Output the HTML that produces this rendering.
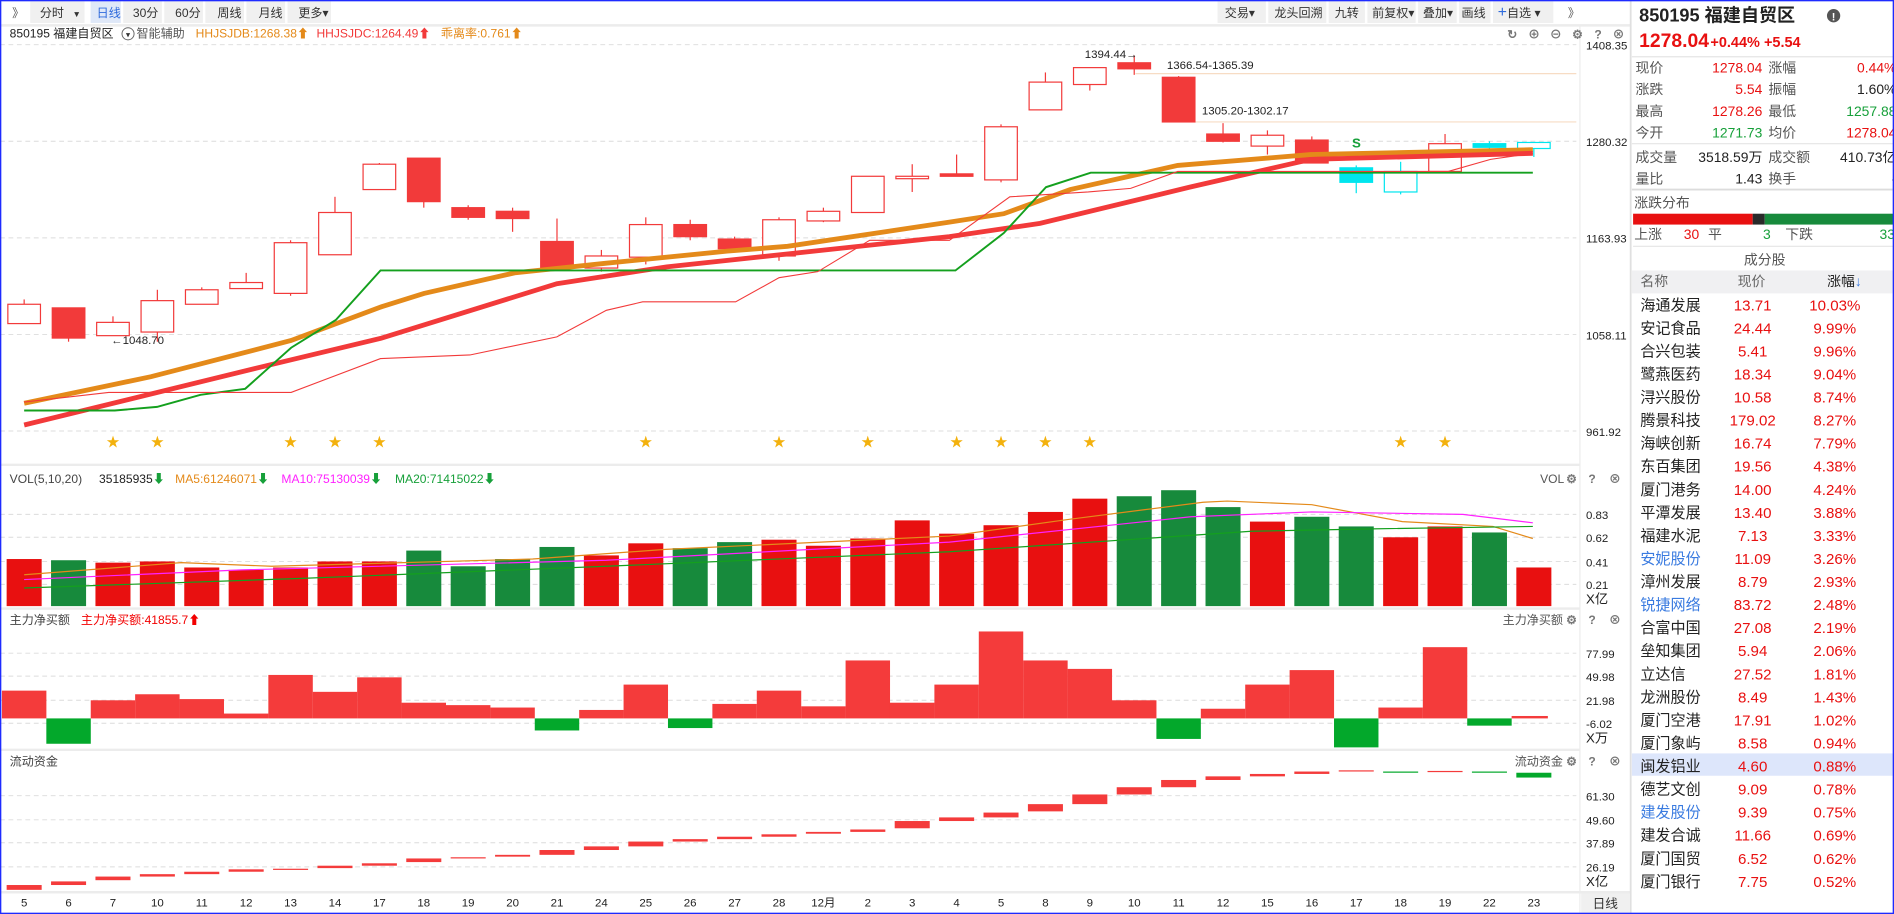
<!DOCTYPE html>
<html><head><meta charset="utf-8"><style>
html,body{margin:0;padding:0;background:#fff;}
svg{display:block;}
text{font-family:"Liberation Sans","Noto Sans CJK SC",sans-serif;}
</style></head><body>
<svg id="s" width="1894" height="914" viewBox="0 0 1568 757" preserveAspectRatio="none" xmlns="http://www.w3.org/2000/svg">
<rect x="0" y="0" width="1568" height="757" fill="#fff"/>
<g id="grid" stroke="#dcdcdc" stroke-dasharray="4,3" stroke-width="0.8">
<line x1="0" y1="37" x2="1305" y2="37"/><line x1="0" y1="117" x2="1305" y2="117"/><line x1="0" y1="197" x2="1305" y2="197"/><line x1="0" y1="277" x2="1305" y2="277"/><line x1="0" y1="357" x2="1305" y2="357"/>
<line x1="0" y1="426" x2="1305" y2="426"/><line x1="0" y1="445" x2="1305" y2="445"/><line x1="0" y1="465" x2="1305" y2="465"/><line x1="0" y1="484" x2="1305" y2="484"/>
<line x1="0" y1="541" x2="1305" y2="541"/><line x1="0" y1="560" x2="1305" y2="560"/><line x1="0" y1="580" x2="1305" y2="580"/><line x1="0" y1="599" x2="1305" y2="599"/>
<line x1="0" y1="659" x2="1305" y2="659"/><line x1="0" y1="679" x2="1305" y2="679"/><line x1="0" y1="698" x2="1305" y2="698"/><line x1="0" y1="718" x2="1305" y2="718"/>
</g>
<g stroke="#ececec" stroke-width="2">
<line x1="0" y1="21" x2="1350" y2="21"/><line x1="0" y1="385" x2="1308" y2="385"/><line x1="0" y1="504" x2="1308" y2="504"/><line x1="0" y1="621" x2="1308" y2="621"/><line x1="0" y1="739" x2="1350" y2="739"/>
</g>
<line x1="1308" y1="21" x2="1308" y2="757" stroke="#ececec" stroke-width="1"/>
<line x1="1350" y1="0" x2="1350" y2="757" stroke="#e0e0e0" stroke-width="1.5"/>
<line x1="940" y1="61" x2="1305" y2="61" stroke="#f7dcc4" stroke-width="1"/>
<line x1="980" y1="101" x2="1305" y2="101" stroke="#f7dcc4" stroke-width="1"/>
<g id="cand"></g>
<g id="lines" fill="none">
<polyline stroke="#e48a1a" stroke-width="4" points="20,334 125,312 241,282 316,254 351,243 426,226 502,218 602,208 652,204 786,184 831,177 886,157 975,137 1085,128 1269,124"/>
<polyline stroke="#f23a3a" stroke-width="4" points="20,352 216,304 316,280 461,235 552,221 786,196 861,185 985,155 1085,132 1269,127"/>
<polyline stroke="#14a01e" stroke-width="1.6" points="20,340 95,340 130,337 166,327 203,322 241,288 278,265 315,224 791,224 831,193 866,155 903,143 1269,143"/>
<polyline stroke="#f23a3a" stroke-width="0.9" points="20,333 90,325 241,325 315,297 389,294 461,279 502,257 532,250 609,250 645,230 677,225 720,199 786,199 836,163 901,159 936,156 975,142 1199,142 1234,132 1269,127"/>
</g>
<g id="stars" fill="#f3b10d" font-size="11" text-anchor="middle"></g>
<text x="1123" y="122" font-size="11" fill="#17a03a" text-anchor="middle" font-weight="bold">S</text>
<g font-size="9.5" fill="#222">
<text x="92" y="285">←1048.70</text>
<text x="898" y="48">1394.44→</text>
<text x="966" y="57">1366.54-1365.39</text>
<text x="995" y="95">1305.20-1302.17</text>
</g>
<g id="vol"></g>
<g id="vma" fill="none" stroke-width="1">
<polyline stroke="#e48a1a" points="20,476 150,466 225,469 441,463 551,455 786,444 886,430 996,416 1016,415 1086,418 1161,432 1236,436 1269,446"/>
<polyline stroke="#ff22ff" points="20,480 200,472 502,464 786,449 986,428 1086,424 1211,426 1269,433"/>
<polyline stroke="#14a01e" points="20,487 250,479 502,469 786,457 1036,440 1136,438 1269,436"/>
</g>
<g id="nb"></g>
<g id="wf"></g>
<g font-size="9.5" fill="#222">
<text x="1313" y="41">1408.35</text><text x="1313" y="121">1280.32</text><text x="1313" y="201">1163.93</text><text x="1313" y="281">1058.11</text><text x="1313" y="361">961.92</text>
<text x="1313" y="430">0.83</text><text x="1313" y="449">0.62</text><text x="1313" y="469">0.41</text><text x="1313" y="488">0.21</text><text x="1313" y="500" font-size="11">X亿</text>
<text x="1313" y="545">77.99</text><text x="1313" y="564">49.98</text><text x="1313" y="584">21.98</text><text x="1313" y="603">-6.02</text><text x="1313" y="615" font-size="11">X万</text>
<text x="1313" y="663">61.30</text><text x="1313" y="683">49.60</text><text x="1313" y="702">37.89</text><text x="1313" y="722">26.19</text><text x="1313" y="734" font-size="11">X亿</text>
</g>
<g id="dates" font-size="9.5" fill="#222" text-anchor="middle"></g>
<rect x="1309" y="740" width="40" height="16" fill="#f0f0f0"/>
<text x="1329" y="752" font-size="10.5" fill="#333" text-anchor="middle">日线</text>
<g font-size="10">
<text x="8" y="31" fill="#222">850195 福建自贸区</text>
<circle cx="106" cy="28" r="5" fill="none" stroke="#666" stroke-width="0.8"/><text x="106" y="31" font-size="7" text-anchor="middle" fill="#333">▾</text>
<text x="113" y="31" fill="#555">智能辅助</text>
<text x="162" y="31" fill="#e48a1a">HHJSJDB:1268.38⬆</text>
<text x="262" y="31" fill="#f23a3a">HHJSJDC:1264.49⬆</text>
<text x="365" y="31" fill="#e48a1a">乖离率:0.761⬆</text>
<text x="8" y="400" fill="#444">VOL(5,10,20)</text>
<text x="82" y="400" fill="#222">35185935<tspan fill="#17a03a">⬇</tspan></text>
<text x="145" y="400" fill="#e48a1a">MA5:61246071<tspan fill="#17a03a">⬇</tspan></text>
<text x="233" y="400" fill="#ff22ff">MA10:75130039<tspan fill="#17a03a">⬇</tspan></text>
<text x="327" y="400" fill="#17a03a">MA20:71415022⬇</text>
<text x="1275" y="400" fill="#555">VOL</text>
<text x="8" y="517" fill="#444">主力净买额</text>
<text x="67" y="517" fill="#f20000">主力净买额:41855.7⬆</text>
<text x="1244" y="517" fill="#555">主力净买额</text>
<text x="8" y="634" fill="#444">流动资金</text>
<text x="1254" y="634" fill="#555">流动资金</text>
</g>
<g fill="#777" font-size="10" text-anchor="middle" font-weight="bold">
<text x="1301" y="400">⚙</text><text x="1318" y="400">?</text><text x="1337" y="400">⊗</text>
<text x="1301" y="517">⚙</text><text x="1318" y="517">?</text><text x="1337" y="517">⊗</text>
<text x="1301" y="634">⚙</text><text x="1318" y="634">?</text><text x="1337" y="634">⊗</text>
<text x="1252" y="32">↻</text><text x="1270" y="32">⊕</text><text x="1288" y="32">⊖</text><text x="1306" y="32">⚙</text><text x="1323" y="32">?</text><text x="1340" y="32">⊗</text>
</g>
<g font-size="10" fill="#333">
<rect x="25" y="1" width="45" height="18" fill="#f0f0f0"/><rect x="75" y="1" width="25" height="18" fill="#dfe8f8"/>
<rect x="102" y="1" width="32" height="18" fill="#f0f0f0"/><rect x="136" y="1" width="32" height="18" fill="#f0f0f0"/><rect x="170" y="1" width="32" height="18" fill="#f0f0f0"/><rect x="204" y="1" width="32" height="18" fill="#f0f0f0"/><rect x="238" y="1" width="36" height="18" fill="#f0f0f0"/>
<text x="10" y="14" fill="#555">》</text>
<text x="33" y="14">分时</text><text x="60" y="14" font-size="7">▼</text>
<text x="80" y="14" fill="#2f6bdc">日线</text><text x="110" y="14">30分</text><text x="145" y="14">60分</text><text x="180" y="14">周线</text><text x="214" y="14">月线</text><text x="247" y="14">更多▾</text>
<rect x="1008" y="1" width="40" height="18" fill="#f0f0f0"/><rect x="1050" y="1" width="48" height="18" fill="#f0f0f0"/><rect x="1100" y="1" width="30" height="18" fill="#f0f0f0"/><rect x="1132" y="1" width="40" height="18" fill="#f0f0f0"/><rect x="1174" y="1" width="32" height="18" fill="#f0f0f0"/><rect x="1208" y="1" width="26" height="18" fill="#f0f0f0"/><rect x="1236" y="1" width="50" height="18" fill="#f0f0f0"/>
<text x="1014" y="14">交易▾</text><text x="1055" y="14">龙头回溯</text><text x="1105" y="14">九转</text><text x="1136" y="14">前复权▾</text><text x="1178" y="14">叠加▾</text><text x="1210" y="14">画线</text><text x="1240" y="14"><tspan fill="#2f6bdc" font-size="13">+</tspan>自选 ▾</text>
<text x="1298" y="14" fill="#555">》</text>
</g>
<g>
<text x="1357" y="18" font-size="15" font-weight="bold" fill="#222">850195 福建自贸区</text>
<circle cx="1518" cy="13" r="5.5" fill="#555"/><text x="1518" y="17" font-size="9" fill="#fff" text-anchor="middle" font-weight="bold">!</text>
<text x="1357" y="39" font-size="16" font-weight="bold" fill="#e81010">1278.04</text>
<text x="1416" y="39" font-size="12" font-weight="bold" fill="#e81010">+0.44%  +5.54</text>
<line x1="1351" y1="47" x2="1568" y2="47" stroke="#e4e4e4"/>
<g font-size="11.5" fill="#555">
<text x="1354" y="60">现价</text><text x="1354" y="78">涨跌</text><text x="1354" y="96">最高</text><text x="1354" y="114">今开</text><text x="1354" y="134">成交量</text><text x="1354" y="152">量比</text>
<text x="1464" y="60">涨幅</text><text x="1464" y="78">振幅</text><text x="1464" y="96">最低</text><text x="1464" y="114">均价</text><text x="1464" y="134">成交额</text><text x="1464" y="152">换手</text>
</g>
<g font-size="11.5" text-anchor="end">
<text x="1459" y="60" fill="#e81010">1278.04</text><text x="1459" y="78" fill="#e81010">5.54</text><text x="1459" y="96" fill="#e81010">1278.26</text><text x="1459" y="114" fill="#17a03a">1271.73</text><text x="1459" y="134" fill="#222">3518.59万</text><text x="1459" y="152" fill="#222">1.43</text>
<text x="1570" y="60" fill="#e81010">0.44%</text><text x="1570" y="78" fill="#222">1.60%</text><text x="1570" y="96" fill="#17a03a">1257.88</text><text x="1570" y="114" fill="#e81010">1278.04</text><text x="1570" y="134" fill="#222">410.73亿</text><text x="1570" y="152" fill="#222">-</text>
</g>
<line x1="1351" y1="119" x2="1568" y2="119" stroke="#e4e4e4"/>
<line x1="1351" y1="157" x2="1568" y2="157" stroke="#dcdcdc" stroke-width="1.5"/>
<text x="1353" y="172" font-size="11.5" fill="#555">涨跌分布</text>
<rect x="1352" y="177" width="99" height="9" fill="#e81010"/><rect x="1451" y="177" width="10" height="9" fill="#2a2a2a"/><rect x="1461" y="177" width="107" height="9" fill="#178a3c"/>
<g font-size="11.5"><text x="1353" y="198" fill="#555">上涨</text><text x="1394" y="198" fill="#e81010">30</text><text x="1414" y="198" fill="#555">平</text><text x="1466" y="198" fill="#17a03a" text-anchor="end">3</text><text x="1478" y="198" fill="#555">下跌</text><text x="1556" y="198" fill="#17a03a">33</text></g>
<line x1="1352" y1="204" x2="1568" y2="204" stroke="#e4e4e4"/>
<text x="1461" y="219" font-size="11.5" fill="#555" text-anchor="middle">成分股</text>
<rect x="1351" y="224" width="217" height="19" fill="#f0f0f2"/>
<g font-size="11.5"><text x="1358" y="237" fill="#666">名称</text><text x="1450" y="237" fill="#666" text-anchor="middle">现价</text><text x="1527" y="237" fill="#222" text-anchor="middle">涨幅<tspan fill="#3a7be0">↓</tspan></text></g>
<rect x="1351" y="624" width="217" height="18.5" fill="#dde6fb"/>
<g id="list" font-size="12.5"></g>
</g>
<rect x="0.5" y="0.5" width="1567" height="756" fill="none" stroke="#1e2bff" stroke-width="1.2"/>
</svg>
<script>
var NS="http://www.w3.org/2000/svg";
function el(p,t,a,txt){var e=document.createElementNS(NS,t);for(var k in a)e.setAttribute(k,a[k]);if(txt!=null)e.textContent=txt;document.getElementById(p).appendChild(e);return e;}
function cx(i){return 20+i*36.76;}
var C=[[252,268,248,268,'h'],[255,280,255,283,'f'],[267,278,262,278,'h'],[249,275,240,283,'h'],[240,252,238,252,'h'],[234,239,226,239,'h'],[201,243,199,245,'h'],[176,211,163,211,'h'],[136,157,135,157,'h'],[131,167,131,172,'f'],[172,180,170,182,'f'],[175,181,172,192,'f'],[200,222,181,222,'f'],[212,222,207,225,'h'],[186,213,180,219,'h'],[186,196,182,199,'f'],[198,206,196,208,'f'],[182,212,180,216,'h'],[175,183,172,184,'h'],[146,176,146,176,'h'],[146,148,136,159,'h'],[144,146,128,146,'f'],[105,149,103,151,'h'],[68,91,60,91,'h'],[56,70,56,75,'h'],[52,57,46,62,'f'],[64,101,63,101,'f'],[111,117,102,118,'f'],[112,121,108,128,'h'],[116,135,113,135,'f'],[139,151,137,160,'c'],[142,159,134,161,'x'],[119,142,111,142,'h'],[119,122,117,125,'c'],[118,123,118,130,'x']];
C.forEach(function(c,i){var x=cx(i),w=28;var col=(c[4]=='c'||c[4]=='x')?'#00e5ee':'#f23a3a';
el('cand','line',{x1:x,y1:c[2],x2:x,y2:c[3],stroke:col,'stroke-width':1});
var filled=(c[4]=='f'||c[4]=='c');
el('cand','rect',{x:x-w/2+0.5,y:c[0],width:w-1,height:Math.max(1,c[1]-c[0]),fill:filled?col:'#fff',stroke:col,'stroke-width':1});});
[2,3,6,7,8,14,17,19,21,22,23,24,31,32].forEach(function(i){el('stars','text',{x:cx(i),y:370},'★');});
var V=[463,464,466,465,470,472,470,465,465,456,469,463,453,460,450,454,449,447,452,446,431,442,435,424,413,411,406,420,432,428,436,445,436,441,470];
var G=[1,9,10,11,12,15,16,25,26,27,29,30,33];
V.forEach(function(t,i){el('vol','rect',{x:cx(i)-14.5,y:t,width:29,height:502-t,fill:G.indexOf(i)>=0?'#178a3c':'#e81010'});});
var N=[572,616,580,575,579,591,559,573,561,582,584,586,605,588,567,603,583,572,585,547,582,567,523,547,554,580,612,587,567,555,619,586,536,601,593];
var NG=[1,12,15,26,30,33];
N.forEach(function(t,i){var z=595,g=NG.indexOf(i)>=0;var y=g?z:t,h=g?t-z:z-t;var w=36.8;if(i==34)w=30;el('nb','rect',{x:cx(i)-18.4,y:y,width:w,height:h,fill:g?'#03a82b':'#f43b3b'});});
var W=[[733,737],[730,733],[726,729],[724,726],[722,724],[720,722],[719.5,720.5],[717,719],[715,717],[711,714],[710,711],[708,709.5],[704,708],[701,704],[697,701],[695,697],[693,695],[691,693],[689,690.5],[687,689],[680,686],[677,680],[673,677],[666,672],[658,666],[652,658],[646,652],[643,646],[641,643],[639,641],[638,639],[639,640,'g'],[638.5,639.5],[639,640,'g'],[640,644,'g']];
W.forEach(function(w,i){el('wf','rect',{x:cx(i)-14.5,y:w[0],width:29,height:Math.max(1,w[1]-w[0]),fill:w[2]?'#03a82b':'#f43b3b'});});
var D=["5","6","7","10","11","12","13","14","17","18","19","20","21","24","25","26","27","28","12月","2","3","4","5","8","9","10","11","12","15","16","17","18","19","22","23"];
D.forEach(function(d,i){el('dates','text',{x:cx(i),y:751},d);});
var L=[["海通发展","13.71","10.03%"],["安记食品","24.44","9.99%"],["合兴包装","5.41","9.96%"],["鹭燕医药","18.34","9.04%"],["浔兴股份","10.58","8.74%"],["腾景科技","179.02","8.27%"],["海峡创新","16.74","7.79%"],["东百集团","19.56","4.38%"],["厦门港务","14.00","4.24%"],["平潭发展","13.40","3.88%"],["福建水泥","7.13","3.33%"],["安妮股份","11.09","3.26%",1],["漳州发展","8.79","2.93%"],["锐捷网络","83.72","2.48%",1],["合富中国","27.08","2.19%"],["垒知集团","5.94","2.06%"],["立达信","27.52","1.81%"],["龙洲股份","8.49","1.43%"],["厦门空港","17.91","1.02%"],["厦门象屿","8.58","0.94%"],["闽发铝业","4.60","0.88%"],["德艺文创","9.09","0.78%"],["建发股份","9.39","0.75%",1],["建发合诚","11.66","0.69%"],["厦门国贸","6.52","0.62%"],["厦门银行","7.75","0.52%"]];
L.forEach(function(r,i){var y=257+i*19.1;el('list','text',{x:1358,y:y,fill:r[3]?'#3a7be0':'#222'},r[0]);el('list','text',{x:1451,y:y,fill:'#e81010','text-anchor':'middle'},r[1]);el('list','text',{x:1519,y:y,fill:'#e81010','text-anchor':'middle'},r[2]);});
</script>
</body></html>
